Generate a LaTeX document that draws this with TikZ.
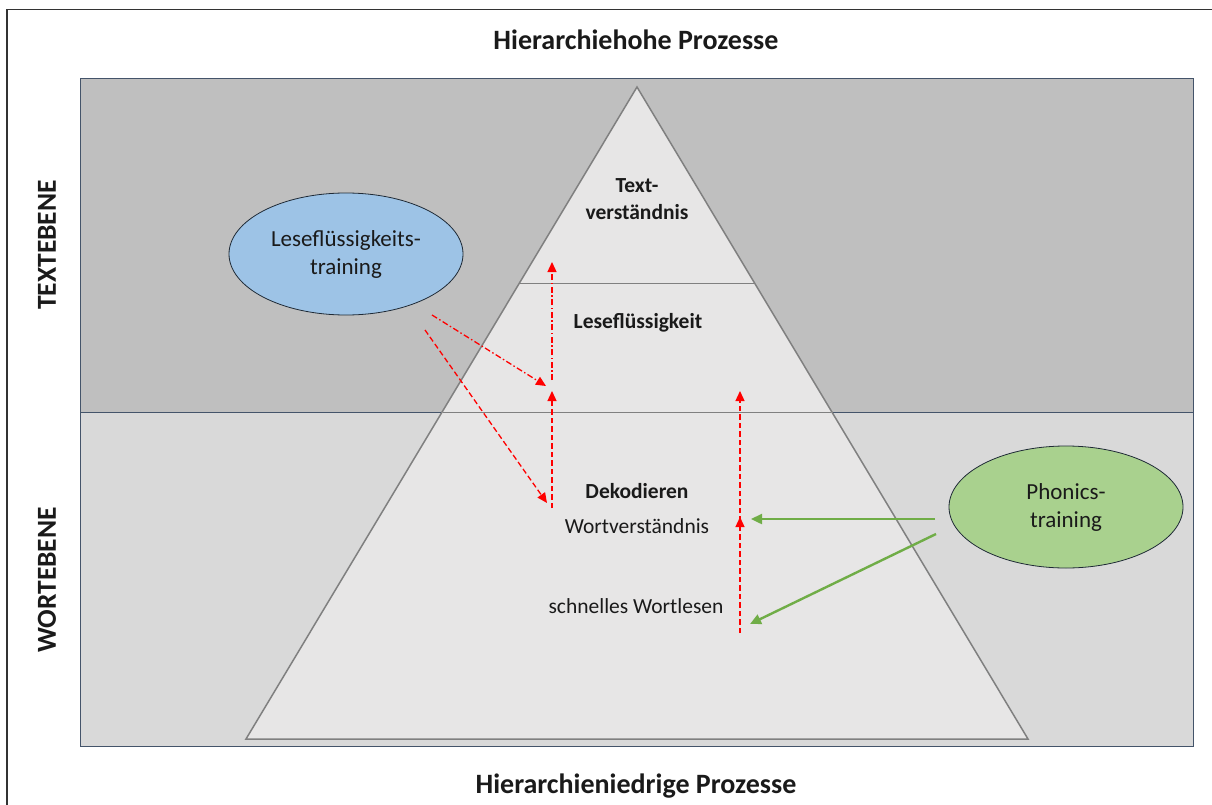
\documentclass[tikz,border=0pt]{standalone}
\usepackage{fontspec}
\setmainfont{Carlito}
\usetikzlibrary{shapes.geometric,arrows.meta}
\definecolor{bandtop}{HTML}{BFBFBF}
\definecolor{bandlow}{HTML}{D9D9D9}
\definecolor{pyrfill}{HTML}{E7E6E6}
\definecolor{pyrline}{HTML}{808080}
\definecolor{bandline}{HTML}{44546A}
\definecolor{bluefill}{HTML}{9DC3E6}
\definecolor{greenfill}{HTML}{A9D18E}
\definecolor{greenline}{HTML}{70AD47}
\definecolor{ovalline}{HTML}{1F2A36}
\definecolor{ink}{HTML}{1A1A1A}
\tikzset{
  txt/.style={inner sep=0pt, align=center, text=ink, font=\fontsize{21.5}{25}\selectfont},
  btxt/.style={txt, font=\fontsize{21.5}{25}\selectfont\bfseries},
  oval/.style={ellipse, draw=ovalline, line width=0.8pt, minimum width=234pt, minimum height=122pt, inner sep=0pt, align=center, text=ink, font=\fontsize{23}{28}\selectfont},
  redarrow/.style={draw=red, line width=1.3pt, -{Triangle[length=10pt,width=9pt]}},
  reddash/.style={redarrow, dash pattern=on 5.5pt off 3pt},
  reddashdot/.style={redarrow, dash pattern=on 6pt off 2.5pt on 1.5pt off 2.5pt},
  greenarrow/.style={draw=greenline, line width=2.4pt, -{Triangle[length=11pt,width=10pt]}}
}
\begin{document}
\begin{tikzpicture}[x=1pt,y=-1pt]
\useasboundingbox (0,0) rectangle (1212,805);
\fill[white] (0,0) rectangle (1212,805);
% frame lines
\draw[line width=1.2pt, black!80] (7,1212) -- (7,9.5) -- (1212,9.5);
% level bands
\fill[bandtop] (80,78) rectangle (1193,412);
\fill[bandlow] (80,412) rectangle (1193,746);
\draw[bandline, line width=0.8pt] (80,78) rectangle (1193,746);
\draw[bandline, line width=0.8pt] (80,412) -- (1193,412);
% pyramid
\coordinate (apex) at (637,87);
\coordinate (bl) at (246,739);
\coordinate (br) at (1028,739);
\draw[pyrline, fill=pyrfill, line width=1.5pt, line join=miter] (apex) -- (bl) -- (br) -- cycle;
\draw[pyrline, line width=1pt] (519.5,283) -- (754.5,283);
\draw[pyrline, line width=1pt] (442.7,412) -- (831.3,412);
% titles
\node[btxt, font=\fontsize{28}{32}\selectfont\bfseries] (top) at (636,40) {Hierarchiehohe Prozesse};
\node[btxt, font=\fontsize{28}{32}\selectfont\bfseries] (bottom) at (636,786) {Hierarchieniedrige Prozesse};
\node[btxt, font=\fontsize{27.5}{32}\selectfont\bfseries, rotate=90] (textebene) at (47,245) {TEXTEBENE};
\node[btxt, font=\fontsize{27.5}{32}\selectfont\bfseries, rotate=90] (wortebene) at (47,580) {WORTEBENE};
% pyramid labels
\node[btxt, font=\fontsize{21.5}{27}\selectfont\bfseries] (textv) at (637,199) {Text-\\verständnis};
\node[btxt] (lesefl) at (638,323) {Leseflüssigkeit};
\node[btxt] (dekod) at (637,491) {Dekodieren};
\node[txt] (wortv) at (637,526) {Wortverständnis};
\node[txt] (schnell) at (636,606) {schnelles Wortlesen};
% trainings
\node[oval, fill=bluefill] (lft) at (346,254) {Leseflüssigkeits-\\training};
\node[oval, fill=greenfill] (pht) at (1066,507) {Phonics-\\training};
% connector end points
\coordinate (a1s) at (552,380);
\coordinate (a1e) at (552,262);
\coordinate (a2s) at (552,508);
\coordinate (a2e) at (552,391);
\coordinate (d1s) at (432,315);
\coordinate (d1e) at (546,386);
\coordinate (d2s) at (425,330);
\coordinate (d2e) at (547,503);
\coordinate (v1s) at (740,633);
\coordinate (v1m) at (740,517);
\coordinate (v2s) at (740,530);
\coordinate (v2e) at (740,391);
\coordinate (g1s) at (935,519);
\coordinate (g1e) at (751,519);
\coordinate (g2s) at (936,534);
\coordinate (g2e) at (750,624);
% red links
\draw[reddashdot] (a1s) -- (a1e);
\draw[reddash] (a2s) -- (a2e);
\draw[reddashdot] (d1s) -- (d1e);
\draw[reddash] (d2s) -- (d2e);
\draw[reddash] (v1s) -- (v1m);
\draw[reddash] (v2s) -- (v2e);
% green links
\draw[greenarrow] (g1s) -- (g1e);
\draw[greenarrow] (g2s) -- (g2e);
\end{tikzpicture}
\end{document}
